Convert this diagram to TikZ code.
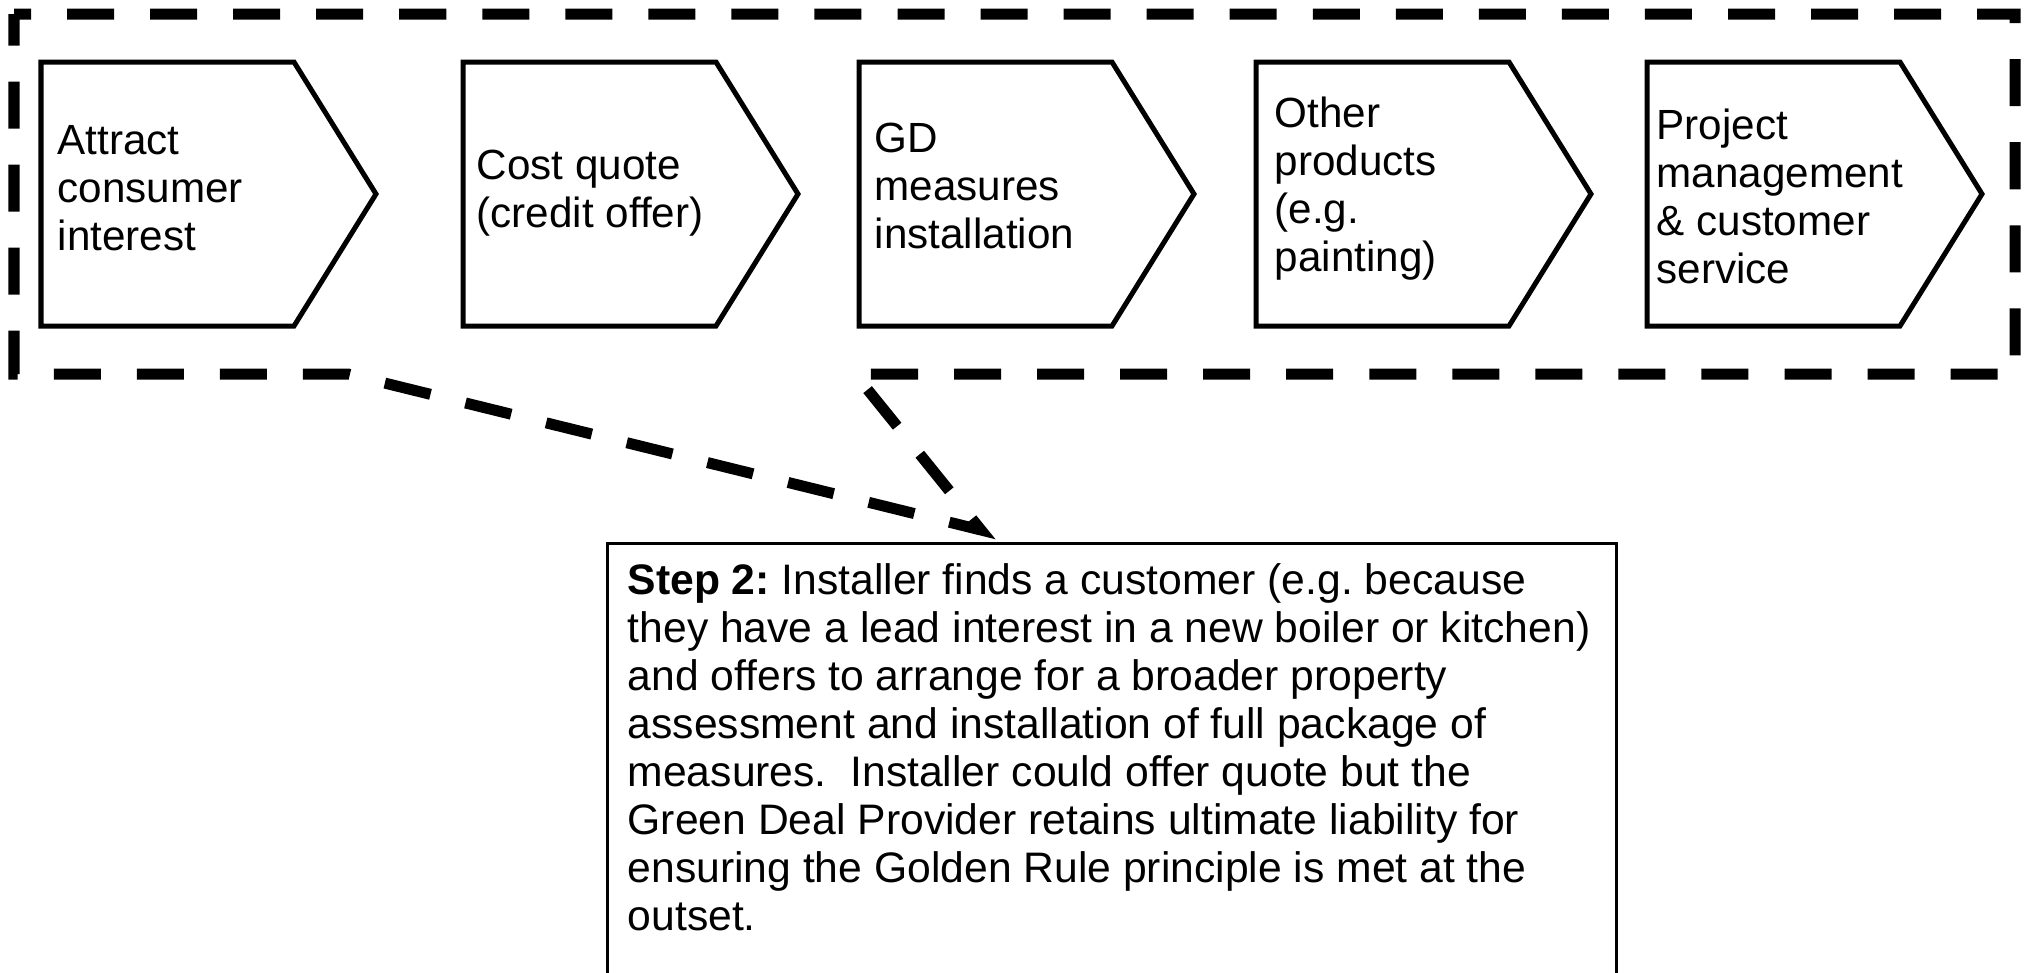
\documentclass[tikz,border=0pt]{standalone}
\usepackage{fontspec}
\setmainfont{Liberation Sans}
\usepackage{tikz}
\usetikzlibrary{calc,positioning}
\newcommand{\pxunit}{0.01cm}
\newcommand{\diagfont}{\fontsize{12pt}{13.66pt}\selectfont\frenchspacing}
\newcommand{\notefont}{\fontsize{12.13pt}{13.66pt}\selectfont\frenchspacing}
\tikzset{
    groupsty/.style={draw, line width=0.11cm, dash pattern=on 0.47cm off 0.36cm, dash phase=0.30cm},
    chevsty/.style={draw, line width=0.05cm},
    labelsty/.style={align=left, inner sep=0pt, anchor=north west, font=\diagfont},
    notesty/.style={draw, line width=0.033cm, rectangle, minimum width=10.08cm, minimum height=4.6cm, anchor=north west, inner sep=0pt},
}
% one step of the chain: body 253 wide, point 82 long
\newcommand{\chevron}[1]{\draw[chevsty] (#1,62) -- ++(253,0) -- ++(82,132) -- ++(-82,132) -- ++(-253,0) -- cycle;}

\begin{document}
\begin{tikzpicture}[x=\pxunit, y=-\pxunit]
\useasboundingbox (0,0) rectangle (2029,972);
\clip (0,0) rectangle (2029,972);
\fill[white] (0,0) rectangle (2029,972);

% steps
\chevron{41}
\chevron{463}
\chevron{859}
\chevron{1256}
\chevron{1647}
\node[labelsty] (attract) at (57,125) {Attract\\consumer\\interest};
\node[labelsty] (costquote) at (476,149) {Cost quote\\(credit offer)};
\node[labelsty] (gdmeasures) at (874,122) {GD\\measures\\installation};
\node[labelsty] (otherprod) at (1274,96) {Other\\products\\(e.g.\\painting)};
\node[labelsty] (projmgmt) at (1656,108) {Project\\management\\\& customer\\service};

% note box
\node[notesty] (note) at (606,542) {};
\node[labelsty, font=\notefont] (notetext) at (627,563) {\textbf{Step 2:} Installer finds a customer (e.g. because\\
they have a lead interest in a new boiler or kitchen)\\
and offers to arrange for a broader property\\
assessment and installation of full package of\\
measures.~ Installer could offer quote but the\\
Green Deal Provider retains ultimate liability for\\
ensuring the Golden Rule principle is met at the\\
outset.};

% dashed callout round the steps
\coordinate (tip) at ([shift={(375,-12)}]note.north west);
\draw[groupsty] (14,14) -- (2015,14) -- (2015,374) -- (855,374) -- (tip) -- (348,374) -- (14,374) -- cycle;
\end{tikzpicture}
\end{document}
